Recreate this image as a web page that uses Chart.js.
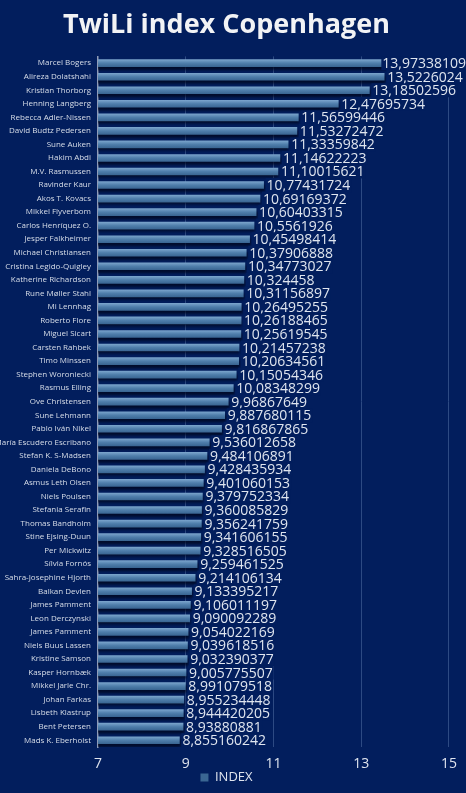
<!DOCTYPE html>
<html>
<head>
<meta charset="utf-8">
<title>TwiLi index Copenhagen</title>
<script src="https://cdn.jsdelivr.net/npm/chart.js@4"></script>
<style>
html,body{margin:0;padding:0;background:#021e5d;}
#chartarea{display:block;}
</style>
</head>
<body>
<canvas id="chartarea" width="466" height="793"></canvas>
<script>
const names=["Marcel Bogers","Alireza Dolatshahi","Kristian Thorborg","Henning Langberg","Rebecca Adler-Nissen","David Budtz Pedersen","Sune Auken","Hakim Abdi","M.V. Rasmussen","Ravinder Kaur","Akos T. Kovacs","Mikkel Flyverbom","Carlos Henríquez O.","Jesper Falkheimer","Michael Christiansen","Cristina Legido-Quigley","Katherine Richardson","Rune Møller Stahl","Mi Lennhag","Roberto Flore","Miguel Sicart","Carsten Rahbek","Timo Minssen","Stephen Woroniecki","Rasmus Elling","Ove Christensen","Sune Lehmann","Pablo Iván Nikel","María Escudero Escribano","Stefan K. S-Madsen","Daniela DeBono","Asmus Leth Olsen","Niels Poulsen","Stefania Serafin","Thomas Bandholm","Stine Ejsing-Duun","Per Mickwitz","Sílvia Fornós","Sahra-Josephine Hjorth","Balkan Devlen","James Pamment","Leon Derczynski","James Pamment","Niels Buus Lassen","Kristine Samson","Kasper Hornbæk","Mikkel Jarle Chr.","Johan Farkas","Lisbeth Klastrup","Bent Petersen","Mads K. Eberholst"];
const indexValues=[13.97338109,13.5226024,13.18502596,12.47695734,11.56599446,11.53272472,11.33359842,11.14622223,11.10015621,10.77431724,10.69169372,10.60403315,10.5561926,10.45498414,10.37906888,10.34773027,10.324458,10.31156897,10.26495255,10.26188465,10.25619545,10.21457238,10.20634561,10.15054346,10.08348299,9.96867649,9.887680115,9.816867865,9.536012658,9.484106891,9.428435934,9.401060153,9.379752334,9.360085829,9.356241759,9.341606155,9.328516505,9.259461525,9.214106134,9.133395217,9.106011197,9.090092289,9.054022169,9.039618516,9.032390377,9.005775507,8.991079518,8.955234448,8.944420205,8.93880881,8.855160242];
const xTicks=[7,9,11,13,15];

const bg="#021e5d";
const chartarea=document.querySelector("#chartarea");

// gradient per bar, lighter on top
function barFill(ctx){
  const ys=ctx.chart.scales.y;
  if(ctx.type!=="data"||!ys) return "#4a78a6";
  const y=ys.getPixelForValue(ctx.dataIndex);
  if(!isFinite(y)) return "#4a78a6";
  const g=ctx.chart.ctx.createLinearGradient(0,y-3.5,0,y+3.5);
  g.addColorStop(0,"#79a3cb");
  g.addColorStop(0.5,"#4f7eab");
  g.addColorStop(1,"#3a6693");
  return g;
}

const barDecor={
  id:"barDecor",
  beforeDatasetsDraw(chart){
    const c=chart.ctx;
    c.save();
    c.shadowColor="rgba(0,5,25,0.75)";
    c.shadowOffsetX=1;
    c.shadowOffsetY=3;
    c.shadowBlur=3;
  },
  afterDatasetsDraw(chart){
    const c=chart.ctx;
    c.restore();
    c.save();
    c.font="14px 'Open Sans'";
    c.textBaseline="middle";
    const meta=chart.getDatasetMeta(0);
    meta.data.forEach((bar,i)=>{
      const txt=String(indexValues[i]).replace(".",",");
      const w=c.measureText(txt).width;
      let x=bar.x+3;
      if(x+w>chart.width) x=chart.width-w;
      c.fillStyle=bg;
      c.fillRect(x-1,bar.y-7,w+2,14);
      c.fillStyle="#dfe5ef";
      c.fillText(txt,x,bar.y+1);
    });
    c.restore();
  }
};

new Chart(chartarea,{
  type:"bar",
  data:{
    labels:names,
    datasets:[{
      label:"INDEX",
      data:indexValues,
      backgroundColor:barFill,
      barThickness:7,
      borderWidth:0
    }]
  },
  plugins:[barDecor],
  options:{
    responsive:false,
    animation:false,
    indexAxis:"y",
    layout:{padding:{left:0,right:13,top:0,bottom:-1}},
    scales:{
      x:{
        min:7,max:15,
        afterBuildTicks:(s)=>{s.ticks=xTicks.map(v=>({value:v}));},
        afterFit:(s)=>{s.height=24;},
        grid:{color:(c)=>c.tick&&c.tick.value===7?"rgba(0,0,0,0)":"#2d4a83",lineWidth:1,drawTicks:false},
        border:{display:false},
        ticks:{color:"#dfe4ee",font:{family:"Open Sans",size:14},padding:9}
      },
      y:{
        grid:{display:false,drawTicks:false},
        border:{color:"#8f9cb8",width:1.5},
        afterFit:(s)=>{s.width=98;},
        ticks:{color:"#d8dee9",font:{family:"Open Sans",size:8},padding:7,autoSkip:false}
      }
    },
    plugins:{
      title:{
        display:true,
        text:"TwiLi index Copenhagen",
        color:"#f2f3f5",
        font:{family:"Open Sans",size:27,weight:"bold"},
        padding:{top:9,bottom:15}
      },
      legend:{
        position:"bottom",
        labels:{color:"#dfe4ee",font:{family:"Open Sans",size:13},boxWidth:8,boxHeight:8,padding:0}
      },
      tooltip:{enabled:false}
    }
  }
});
</script>
</body>
</html>
